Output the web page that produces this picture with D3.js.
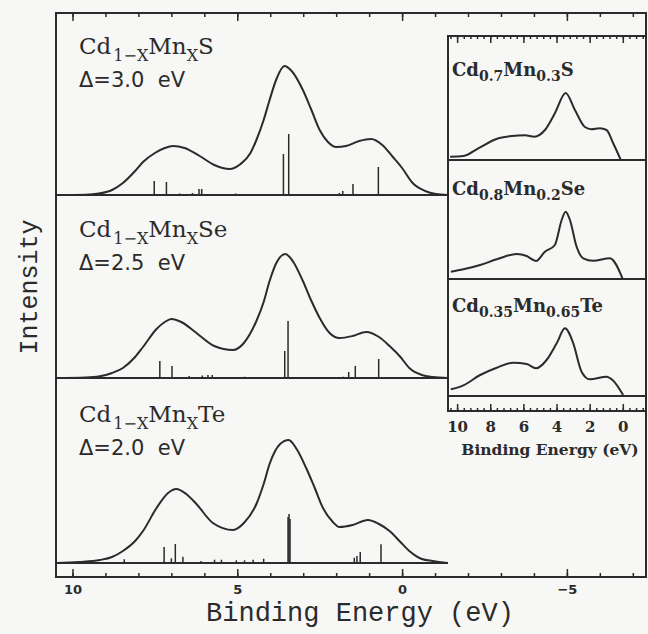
<!DOCTYPE html>
<html>
<head>
<meta charset="utf-8">
<script src="https://cdn.jsdelivr.net/npm/d3@7"></script>
<style>
  body { margin: 0; background: #f7f7f5; }
  svg { display: block; }
</style>
</head>
<body>
<svg id="chart" width="648" height="634"></svg>
<script>
// ---- data (energy in eV, intensity in arbitrary units) ----

// broadened cluster spectra, main panels
const curveS = [[10.5,0],[9.6,0.3],[9.2,1.5],[8.8,5],[8.47,12],[8.1,24],[7.86,33],[7.5,42],[7.2,47],[6.95,49],[6.6,47],[6.14,39],[5.7,30],[5.23,26],[4.9,31],[4.6,42],[4.42,55],[4.2,75],[4.02,95],[3.8,117],[3.57,129],[3.35,124],[3.01,105],[2.75,85],[2.5,65],[2.25,53],[2.0,48],[1.7,49],[1.3,54],[0.94,56],[0.6,50],[0.28,38],[0,27],[-0.32,12],[-0.7,4],[-1.03,1],[-1.39,0]];
const curveSe = [[10.5,0],[9.6,0.5],[9.17,1.7],[8.8,5],[8.47,10],[8.1,21],[7.86,31],[7.45,49],[7.2,56],[7.0,59],[6.7,56],[6.24,45],[5.7,32],[5.13,28],[4.8,35],[4.42,57],[4.2,76],[4.02,97],[3.8,116],[3.54,124],[3.3,116],[3.01,97],[2.75,77],[2.5,60],[2.2,45],[1.9,40],[1.5,42],[1.09,46],[0.7,41],[0.38,32],[0.05,21],[-0.22,10],[-0.6,3],[-0.93,1],[-1.39,0]];
const curveTe = [[10.5,0],[9.8,1],[9.17,3],[8.8,6],[8.47,12],[8.1,22],[7.86,32],[7.45,55],[7.1,70],[6.85,74],[6.55,69],[6.24,59],[5.74,40],[5.13,33],[4.8,40],[4.42,59],[4.2,79],[4.02,99],[3.7,119],[3.44,123],[3.2,114],[2.91,95],[2.65,75],[2.4,55],[2.1,41],[1.9,36],[1.5,38],[1.04,43],[0.7,39],[0.38,32],[0.05,21],[-0.22,12],[-0.6,4],[-0.93,2],[-1.39,0]];

// discrete final-state lines (stick spectra)
const sticksS = [[7.52,14],[7.15,13],[6.75,1.5],[6.36,2],[6.16,6],[6.08,6],[5.43,1],[5.05,1.5],[4.68,0.7],[3.6,41],[3.44,61],[1.9,2],[1.8,4],[1.49,11],[0.72,28]];
const sticksSe = [[7.35,17],[6.98,12],[6.46,2],[6.06,2.5],[5.89,3],[5.76,3],[5.25,1],[4.78,1.3],[4.45,1],[3.56,27],[3.46,57],[1.78,1.3],[1.62,6],[1.42,12],[0.71,19]];
const sticksTe = [[8.43,3.7],[7.22,16],[7.0,4.7],[6.88,19],[6.65,6.3],[6.1,2],[5.69,3.3],[5.48,3.3],[5.03,2.7],[4.78,2.7],[4.52,3.3],[4.2,4.3],[3.46,46],[3.43,49],[3.40,44],[1.45,5.3],[1.37,7],[1.27,11],[0.64,18.7]];

// measured spectra, inset panels
const expS = [[10.42,3.3],[9.62,4],[8.72,11.7],[7.51,21.7],[6.71,24],[5.9,24.7],[5.34,23.3],[4.7,30],[4.1,46.7],[3.45,67],[2.89,50],[2.29,33],[1.89,30.7],[1.39,31.7],[0.98,30],[0.58,16.7],[0.12,0]];
const expSe = [[10.38,7.3],[9.62,9.7],[8.61,14],[7.61,19.7],[6.4,25],[5.8,23],[5.24,18],[4.7,27.3],[4.1,34],[3.69,59],[3.45,67.3],[3.19,59],[2.79,32.3],[2.39,20.7],[1.79,18.3],[0.78,20.7],[0.02,0.7]];
const expTe = [[10.38,6.7],[9.62,10.7],[8.61,21],[7.61,28.3],[6.61,33.3],[5.8,32],[5.24,27.7],[4.6,36],[3.99,52.7],[3.49,67.7],[2.99,52.7],[2.49,24.3],[1.99,16.7],[0.98,19.3],[0.62,16],[-0.02,1]];

// labels and ticks
const mainCompounds = ["S", "Se", "Te"];
const mainDeltas = ["Δ=3.0  eV", "Δ=2.5  eV", "Δ=2.0  eV"];
const insetCd = ["0.7", "0.8", "0.35"];
const insetMn = ["0.3", "0.2", "0.65"];
const insetAnion = ["S", "Se", "Te"];
const mainMajorTicks = [10, 5, 0, -5];
const mainMinorTicks = d3.range(10, -7.5, -1);
const insetMajorTicks = [10, 8, 6, 4, 2, 0];
const insetMinorTicks = d3.range(10.4, -1.3, -0.4);

// ---- layout ----
const ink = "#2b2b2b";
const svg = d3.select("#chart");
const frame = {left: 56, right: 646, top: 13, bottom: 577};
const mainBases = [195, 378, 563];
const panelH = 183;
const inset = {left: 448, right: 646, top: 36, bottom: 411};
const insetBases = [160, 279, 396];
const insetH = 119;

const x = d3.scaleLinear().domain([10.5, -7.4]).range([frame.left, frame.right]);
const xi = d3.scaleLinear().domain([10.55, -1.4]).range([inset.left, inset.right]);

const mainCurves = [curveS, curveSe, curveTe];
const mainSticks = [sticksS, sticksSe, sticksTe];
const insetCurves = [expS, expSe, expTe];

// main panels
mainBases.forEach((base, i) => {
  const y = d3.scaleLinear().domain([0, panelH]).range([base, base - panelH]);
  const g = svg.append("g");

  g.append("line")
    .attr("x1", frame.left).attr("x2", inset.left)
    .attr("y1", base).attr("y2", base)
    .attr("stroke", ink).attr("stroke-width", 2);

  g.selectAll("line.stick")
    .data(mainSticks[i])
    .enter().append("line")
      .attr("class", "stick")
      .attr("x1", d => x(d[0])).attr("x2", d => x(d[0]))
      .attr("y1", y(0)).attr("y2", d => y(d[1]))
      .attr("stroke", ink).attr("stroke-width", 1.5);

  const line = d3.line()
    .x(d => x(d[0])).y(d => y(d[1]))
    .curve(d3.curveMonotoneX);
  g.append("path")
    .datum(mainCurves[i])
    .attr("d", line)
    .attr("fill", "none").attr("stroke", ink).attr("stroke-width", 2);

  const top = base - panelH;
  const t = g.append("text")
    .attr("x", 79).attr("y", top + 42)
    .attr("font-family", "DejaVu Serif").attr("font-size", 23)
    .attr("fill", ink);
  t.append("tspan").text("Cd");
  t.append("tspan").attr("font-size", 16).attr("dx", 2).attr("dy", 7).text("1−X");
  t.append("tspan").attr("dy", -7).text("Mn");
  t.append("tspan").attr("font-size", 16).attr("dy", 7).text("X");
  t.append("tspan").attr("dy", -7).text(mainCompounds[i]);

  g.append("text")
    .attr("x", 79).attr("y", top + 75)
    .attr("font-family", "DejaVu Sans").attr("font-size", 21)
    .attr("fill", ink)
    .style("white-space", "pre")
    .text(mainDeltas[i]);
});

// main frame and axes
svg.append("rect")
  .attr("x", frame.left).attr("y", frame.top)
  .attr("width", frame.right - frame.left).attr("height", frame.bottom - frame.top)
  .attr("fill", "none").attr("stroke", ink).attr("stroke-width", 2);

function styleAxis(sel) {
  sel.select(".domain").remove();
  sel.selectAll(".tick line").attr("stroke", ink).attr("stroke-width", 1.5);
}
function noLabels(sel) {
  sel.selectAll(".tick text").remove();
}

svg.append("g")
  .attr("transform", `translate(0,${frame.bottom})`)
  .call(d3.axisBottom(x).tickValues(mainMinorTicks).tickSize(-4))
  .call(styleAxis).call(noLabels);
svg.append("g")
  .attr("transform", `translate(0,${frame.bottom})`)
  .call(d3.axisBottom(x).tickValues(mainMajorTicks).tickSize(-8).tickPadding(8)
    .tickFormat(d => d < 0 ? "−" + Math.abs(d) : d))
  .call(styleAxis)
  .call(s => s.selectAll("text")
    .attr("font-family", "DejaVu Sans").attr("font-weight", "bold")
    .attr("font-size", 13).attr("fill", ink));
svg.append("g")
  .attr("transform", `translate(0,${frame.top})`)
  .call(d3.axisTop(x).tickValues(mainMinorTicks).tickSize(-4))
  .call(styleAxis).call(noLabels);
svg.append("g")
  .attr("transform", `translate(0,${frame.top})`)
  .call(d3.axisTop(x).tickValues(mainMajorTicks).tickSize(-8))
  .call(styleAxis).call(noLabels);

svg.append("text")
  .attr("transform", "translate(37,287) rotate(-90)")
  .attr("text-anchor", "middle")
  .attr("font-family", "Liberation Mono").attr("font-size", 25)
  .attr("fill", ink)
  .text("Intensity");

svg.append("text")
  .attr("x", 360).attr("y", 621)
  .attr("text-anchor", "middle")
  .attr("font-family", "Liberation Mono").attr("font-size", 27)
  .attr("fill", ink)
  .text("Binding Energy (eV)");

// inset
svg.append("rect")
  .attr("x", inset.left).attr("y", inset.top)
  .attr("width", inset.right - inset.left).attr("height", inset.bottom - inset.top)
  .attr("fill", "#f7f7f5").attr("stroke", ink).attr("stroke-width", 2);

insetBases.forEach((base, i) => {
  const y = d3.scaleLinear().domain([0, insetH]).range([base, base - insetH]);
  const g = svg.append("g");
  g.append("line")
    .attr("x1", inset.left).attr("x2", inset.right)
    .attr("y1", base).attr("y2", base)
    .attr("stroke", ink).attr("stroke-width", 2);
  g.append("path")
    .datum(insetCurves[i])
    .attr("d", d3.line().x(d => xi(d[0])).y(d => y(d[1])).curve(d3.curveMonotoneX))
    .attr("fill", "none").attr("stroke", ink).attr("stroke-width", 2);

  const t = g.append("text")
    .attr("x", 452).attr("y", base - insetH + 35)
    .attr("font-family", "DejaVu Serif").attr("font-weight", "bold")
    .attr("font-size", 18).attr("fill", ink);
  t.append("tspan").text("Cd");
  t.append("tspan").attr("font-size", 14).attr("dy", 5).text(insetCd[i]);
  t.append("tspan").attr("dy", -5).text("Mn");
  t.append("tspan").attr("font-size", 14).attr("dy", 5).text(insetMn[i]);
  t.append("tspan").attr("dy", -5).text(insetAnion[i]);
});

svg.append("g")
  .attr("transform", `translate(0,${inset.bottom})`)
  .call(d3.axisBottom(xi).tickValues(insetMinorTicks).tickSize(-3))
  .call(styleAxis).call(noLabels);
svg.append("g")
  .attr("transform", `translate(0,${inset.bottom})`)
  .call(d3.axisBottom(xi).tickValues(insetMajorTicks).tickSize(-7).tickPadding(10))
  .call(styleAxis)
  .call(s => s.selectAll("text")
    .attr("font-family", "DejaVu Serif").attr("font-weight", "bold")
    .attr("font-size", 15).attr("fill", ink));
svg.append("g")
  .attr("transform", `translate(0,${inset.top})`)
  .call(d3.axisTop(xi).tickValues(insetMinorTicks).tickSize(-3))
  .call(styleAxis).call(noLabels);
svg.append("g")
  .attr("transform", `translate(0,${inset.top})`)
  .call(d3.axisTop(xi).tickValues(insetMajorTicks).tickSize(-7))
  .call(styleAxis).call(noLabels);

svg.append("text")
  .attr("x", 550).attr("y", 455)
  .attr("text-anchor", "middle")
  .attr("font-family", "DejaVu Serif").attr("font-weight", "bold")
  .attr("font-size", 15.5).attr("fill", ink)
  .text("Binding Energy (eV)");
</script>
</body>
</html>
